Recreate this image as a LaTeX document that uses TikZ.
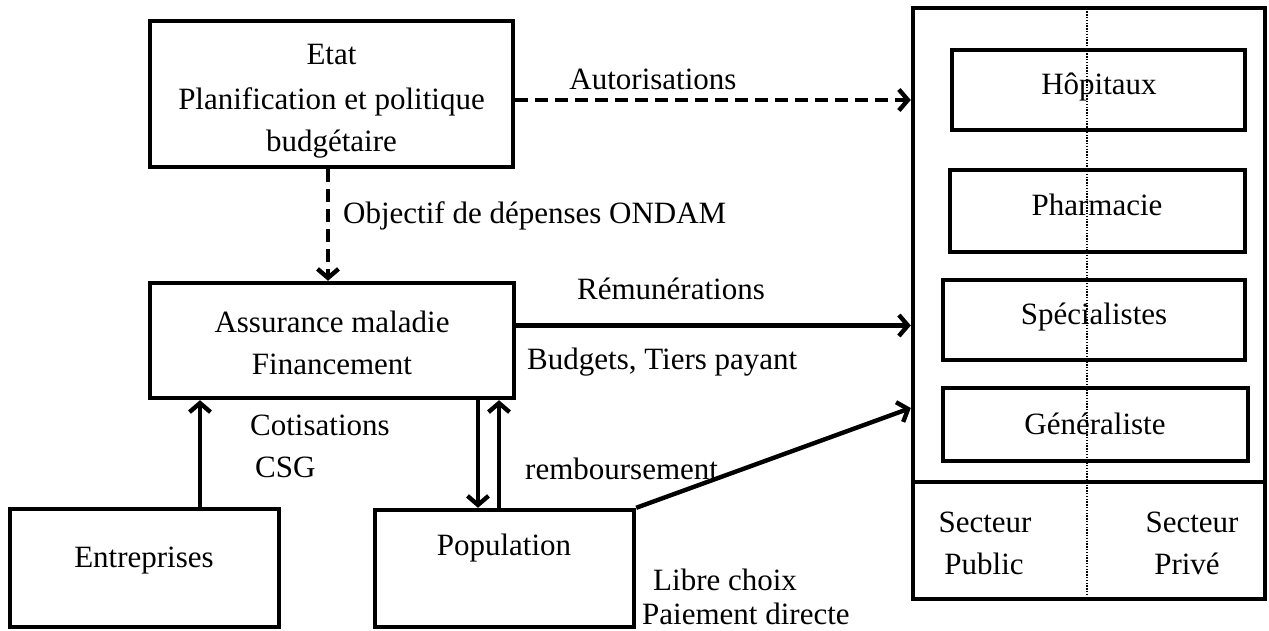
\documentclass[tikz,border=0pt]{standalone}
\usepackage{fontspec}
\setmainfont{Liberation Serif}
\usetikzlibrary{arrows.meta}
\begin{document}
\begin{tikzpicture}[x=1pt,y=-1pt,
  box/.style={draw, line width=4.4pt, rectangle, inner sep=0pt},
  txt/.style={font=\fontsize{31}{37}\selectfont, inner sep=0pt, anchor=base},
  lbl/.style={txt, anchor=base west},
  flow/.style={line width=4.4pt, -{Straight Barb[length=9pt,width=21pt]}},
  dflow/.style={flow, dash pattern=on 13pt off 7pt},
  divider/.style={line width=1.4pt, dash pattern=on 1.4pt off 1.4pt},
]
\useasboundingbox (0,0) rectangle (1269,631);

% actors
\node[box, minimum width=363pt, minimum height=146pt] (etat)  at (331.5,94) {};
\node[box, minimum width=364pt, minimum height=115pt] (assur) at (332,340.5) {};
\node[box, minimum width=269pt, minimum height=118pt] (entr)  at (144.5,568) {};
\node[box, minimum width=259pt, minimum height=117pt] (pop)   at (504.5,568.5) {};

\node[txt] (etat1) at (331.5,65) {Etat};
\node[txt] (etat2) at (331.5,110) {Planification et politique};
\node[txt] (etat3) at (331.5,152) {budgétaire};
\node[txt] (assur1) at (332,332) {Assurance maladie};
\node[txt] (assur2) at (332,374) {Financement};
\node[txt] (entr1) at (144,567) {Entreprises};
\node[txt] (pop1) at (504,555) {Population};

% care providers
\node[box, minimum width=352pt, minimum height=591pt] (panel) at (1089,303.5) {};
\node[box, minimum width=293pt, minimum height=80pt] (hop)   at (1098.5,90) {};
\node[box, minimum width=295pt, minimum height=82pt] (pharm) at (1097.5,211) {};
\node[box, minimum width=302pt, minimum height=80pt] (spec)  at (1094,320) {};
\node[box, minimum width=305pt, minimum height=73pt] (gen)   at (1095.5,424.5) {};

\node[txt] (hop1) at (1099,95) {Hôpitaux};
\node[txt] (pharm1) at (1097,216) {Pharmacie};
\node[txt] (spec1) at (1094,324) {Spécialistes};
\node[txt] (gen1) at (1095,434) {Généraliste};

\coordinate (sep) at (0,482);
\coordinate (divx) at (1087,0);
\draw[line width=4.4pt] (panel.west |- sep) -- (panel.east |- sep);
\draw[divider] (panel.north -| divx) -- (panel.south -| divx);

\node[txt] (pub1) at (985,532) {Secteur};
\node[txt] (pub2) at (984,574) {Public};
\node[txt] (priv1) at (1192,532) {Secteur};
\node[txt] (priv2) at (1187,574) {Privé};

% flows
\draw[dflow] ([yshift=-6pt]etat.east) -- ([yshift=-6pt]etat.east -| panel.west);
\draw[dflow] ([xshift=-3.5pt]etat.south) -- ([xshift=-3.5pt]etat.south |- assur.north);
\draw[flow] ([yshift=15pt]assur.east) -- ([yshift=15pt]assur.east -| panel.west);
\draw[flow] ([xshift=55.5pt]entr.north) -- ([xshift=55.5pt]entr.north |- assur.south);
\draw[flow] ([xshift=-26.5pt]pop.north |- assur.south) -- ([xshift=-26.5pt]pop.north);
\draw[flow] ([xshift=-5.5pt]pop.north) -- ([xshift=-5.5pt]pop.north |- assur.south);
\draw[flow] (pop.north east) -- ([yshift=-104.5pt]panel.west);

% flow labels
\node[txt] (aut) at (653,90) {Autorisations};
\node[lbl] (ondam) at (343,224) {Objectif de dépenses ONDAM};
\node[txt] (remu) at (671,299) {Rémunérations};
\node[lbl] (budg) at (527,369) {Budgets, Tiers payant};
\node[lbl] (coti) at (250,435) {Cotisations};
\node[lbl] (csg) at (255,477) {CSG};
\node[lbl] (remb) at (525,479) {remboursement};
\node[lbl] (libre) at (653,590) {Libre choix};
\node[lbl] (paie) at (642,624) {Paiement directe};
\end{tikzpicture}
\end{document}
